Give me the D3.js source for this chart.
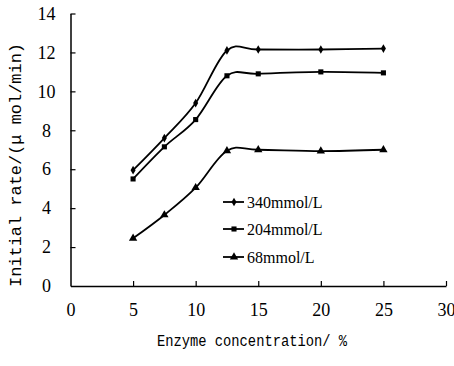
<!DOCTYPE html>
<html>
<head>
<meta charset="utf-8">
<script src="https://cdn.jsdelivr.net/npm/d3@7"></script>
<style>
  body { margin: 0; background: #fff; }
  svg { display: block; }
</style>
</head>
<body>
<svg id="chart" width="454" height="366"></svg>
<script>
// enzyme concentration (%)
var conc = [5, 7.5, 10, 12.5, 15, 20, 25];
// initial rate for each substrate level
var rate340 = [5.95, 7.6, 9.4, 12.1, 12.15, 12.15, 12.2];
var rate204 = [5.5, 7.15, 8.55, 10.8, 10.9, 11.0, 10.95];
var rate68 = [2.45, 3.65, 5.05, 6.95, 7.0, 6.93, 7.0];
var seriesNames = ['340mmol/L', '204mmol/L', '68mmol/L'];
var xTicks = [0, 5, 10, 15, 20, 25, 30];
var yTicks = [0, 2, 4, 6, 8, 10, 12, 14];

var svg = d3.select('#chart'),
    x = d3.scaleLinear().domain([0, 30]).range([70.5, 446]),
    y = d3.scaleLinear().domain([0, 14]).range([286, 13.5]);

var serif = '"Liberation Serif", "DejaVu Serif", serif',
    mono = '"Liberation Mono", "DejaVu Sans Mono", monospace';

// axes, ticks pointing inward
var xAxis = svg.append('g').attr('transform', 'translate(0,286)')
  .call(d3.axisBottom(x).tickValues(xTicks).tickSizeInner(-5).tickSizeOuter(0).tickPadding(17));
var yAxis = svg.append('g').attr('transform', 'translate(70.5,0)')
  .call(d3.axisLeft(y).tickValues(yTicks).tickSizeInner(-5).tickSizeOuter(0).tickPadding(30));

[xAxis, yAxis].forEach(function(a) {
  a.select('.domain').attr('stroke', '#000').attr('stroke-width', 1.5);
  a.selectAll('.tick line').attr('stroke', '#000').attr('stroke-width', 1.2);
  a.selectAll('.tick text').attr('fill', '#000').style('font-family', serif).style('font-size', '18px');
});
yAxis.selectAll('.tick text').attr('text-anchor', 'middle').attr('dx', 6);
yAxis.selectAll('.tick').filter(function(d) { return d === 0; }).select('line').remove();
xAxis.selectAll('.tick').filter(function(d) { return d === 0; }).select('line').remove();

// axis titles
svg.append('text')
  .attr('x', 252).attr('y', 346)
  .attr('text-anchor', 'middle')
  .attr('textLength', 190).attr('lengthAdjust', 'spacingAndGlyphs')
  .style('font-family', mono).style('font-size', '16px')
  .text('Enzyme concentration/ %');

svg.append('text')
  .attr('transform', 'translate(21,165) rotate(-90)')
  .attr('text-anchor', 'middle')
  .attr('textLength', 244).attr('lengthAdjust', 'spacingAndGlyphs')
  .style('font-family', mono).style('font-size', '17px')
  .text('Initial rate/(\u03bc mol/min)');

// series lines
var line = d3.line()
  .x(function(d) { return x(d[0]); })
  .y(function(d) { return y(d[1]); })
  .curve(d3.curveCardinal.tension(0));

var series = [rate340, rate204, rate68].map(function(vals, i) {
  return { name: seriesNames[i], pts: conc.map(function(c, j) { return [c, vals[j]]; }) };
});
var symbols = [d3.symbolDiamond, d3.symbolSquare, d3.symbolTriangle],
    symSizes = [22, 26, 30];

series.forEach(function(s, i) {
  svg.append('path')
    .attr('d', line(s.pts))
    .attr('fill', 'none')
    .attr('stroke', '#000')
    .attr('stroke-width', 1.8);
  svg.selectAll('.m' + i)
    .data(s.pts)
    .enter().append('path')
    .attr('transform', function(d) { return 'translate(' + x(d[0]) + ',' + y(d[1]) + ')'; })
    .attr('d', d3.symbol().type(symbols[i]).size(symSizes[i]))
    .attr('fill', '#000');
});

// legend
var legendY = [202, 229, 257];
series.forEach(function(s, i) {
  var g = svg.append('g').attr('transform', 'translate(223,' + legendY[i] + ')');
  g.append('line').attr('x1', 0).attr('x2', 21).attr('stroke', '#000').attr('stroke-width', 1.8);
  g.append('path').attr('transform', 'translate(11,0)')
    .attr('d', d3.symbol().type(symbols[i]).size(symSizes[i])).attr('fill', '#000');
  g.append('text').attr('x', 24).attr('y', 6)
    .style('font-family', serif).style('font-size', '16px')
    .text(s.name);
});
</script>
</body>
</html>
